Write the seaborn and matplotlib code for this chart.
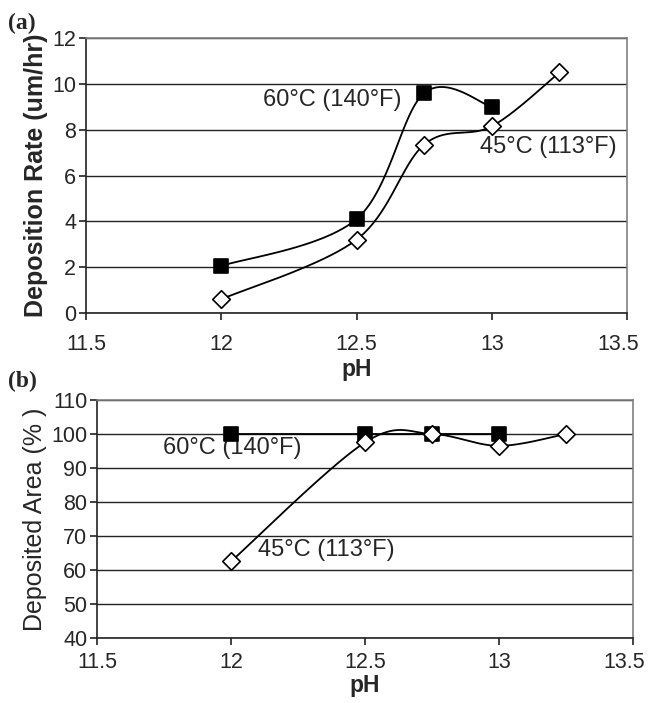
import numpy as np
import pandas as pd
import seaborn as sns
import matplotlib.pyplot as plt
import matplotlib.transforms as mtransforms

sns.set_style('white')
plt.rcParams['font.family'] = ['Liberation Sans', 'DejaVu Sans']

# panel (a) deposition rate
ph_60 = [12.0, 12.5, 12.75, 13.0]
rate_60 = [2.05, 4.1, 9.6, 9.0]
ph_45 = [12.0, 12.5, 12.75, 13.0, 13.25]
rate_45 = [0.6, 3.2, 7.35, 8.15, 10.5]

# panel (b) deposited area
area_60 = [100, 100, 100, 100]
area_45 = [62.5, 97.5, 100, 96.5, 100]

x_ticks = [11.5, 12, 12.5, 13, 13.5]
x_ticklabels = ['11.5', '12', '12.5', '13', '13.5']
label_60 = '60°C (140°F)'
label_45 = '45°C (113°F)'


def smooth(x, y, sx, sy, n=40):
    # excel style smoothed line: bezier with catmull-rom tangents, done in screen units
    p = np.column_stack([np.asarray(x) * sx, np.asarray(y) * sy])
    pts = [p[0]] + list(p) + [p[-1]]
    out = []
    t = np.linspace(0, 1, n)[:, None]
    for i in range(1, len(pts) - 2):
        p0, p1, p2, p3 = pts[i - 1], pts[i], pts[i + 1], pts[i + 2]
        c1 = p1 + (p2 - p0) / 6
        c2 = p2 - (p3 - p1) / 6
        seg = (1 - t) ** 3 * p1 + 3 * (1 - t) ** 2 * t * c1 + 3 * (1 - t) * t ** 2 * c2 + t ** 3 * p2
        out.append(seg)
    out = np.vstack(out)
    return out[:, 0] / sx, out[:, 1] / sy


def style_axes(ax, ylim, yticks, xpad):
    ax.set_xlim(11.5, 13.5)
    ax.set_ylim(*ylim)
    ax.set_xticks(x_ticks)
    ax.set_xticklabels(x_ticklabels)
    ax.set_yticks(yticks)
    ax.yaxis.grid(True, color='#222222', linewidth=1.0)
    ax.xaxis.grid(False)
    for s in ['top', 'right']:
        ax.spines[s].set_color('#808080')
        ax.spines[s].set_linewidth(1.2)
    for s in ['left', 'bottom']:
        ax.spines[s].set_color('#222222')
        ax.spines[s].set_linewidth(1.2)
    ax.tick_params(axis='both', direction='out', length=5, width=1.2, color='#222222',
                   labelsize=15.5, pad=2, bottom=True, left=True)
    ax.tick_params(axis='x', pad=xpad)
    ax.set_axisbelow(True)
    # last x label sits a bit to the left, like the original
    lab = ax.get_xticklabels()[-1]
    lab.set_transform(lab.get_transform() + mtransforms.ScaledTranslation(-9 / 100, 0, fig.dpi_scale_trans))


def draw_series(ax, x, y, marker, face, sx, sy):
    xs, ys = smooth(x, y, sx, sy)
    ax.plot(xs, ys, color='black', linewidth=1.3, zorder=3)
    df = pd.DataFrame({'pH': x, 'val': y})
    sns.scatterplot(data=df, x='pH', y='val', ax=ax, marker=marker, s=110 if marker == 's' else 80,
                    color=face, edgecolor='black', linewidth=1.2, zorder=4)


fig = plt.figure(figsize=(6.48, 7.03), dpi=100)
ax1 = fig.add_axes([0.1327, 0.5548, 0.835, 0.391])
ax2 = fig.add_axes([0.1497, 0.0925, 0.827, 0.3386])

# (a)
sx1, sy1 = 541 / 2.0, 275 / 12.0
draw_series(ax1, ph_60, rate_60, 's', 'black', sx1, sy1)
draw_series(ax1, ph_45, rate_45, 'D', 'white', sx1, sy1)
style_axes(ax1, (0, 12), [0, 2, 4, 6, 8, 10, 12], 10)
ax1.set_xlabel('pH', fontsize=16.5, fontweight='bold', labelpad=2)
ax1.set_ylabel('Deposition Rate (um/hr)', fontsize=18, fontweight='bold', labelpad=3)
ax1.text(12.154, 9.29, label_60, fontsize=17, va='center', ha='left')
ax1.text(12.957, 7.24, label_45, fontsize=17, va='center', ha='left')
fig.text(0.012, 0.967, '(a)', fontsize=17, fontweight='bold', family='Liberation Serif', va='center')

# (b)
sx2, sy2 = 536 / 2.0, 238 / 70.0
draw_series(ax2, ph_60, area_60, 's', 'black', sx2, sy2)
draw_series(ax2, ph_45, area_45, 'D', 'white', sx2, sy2)
style_axes(ax2, (40, 110), [40, 50, 60, 70, 80, 90, 100, 110], 5)
ax2.set_xlabel('pH', fontsize=16.5, fontweight='bold', labelpad=1)
ax2.set_ylabel('Deposited Area (% )', fontsize=18, labelpad=3)
ax2.text(11.746, 95.9, label_60, fontsize=17, va='center', ha='left')
ax2.text(12.10, 65.9, label_45, fontsize=17, va='center', ha='left')
fig.text(0.012, 0.457, '(b)', fontsize=17, fontweight='bold', family='Liberation Serif', va='center')

fig.savefig('out.png', dpi=100, facecolor='white')
